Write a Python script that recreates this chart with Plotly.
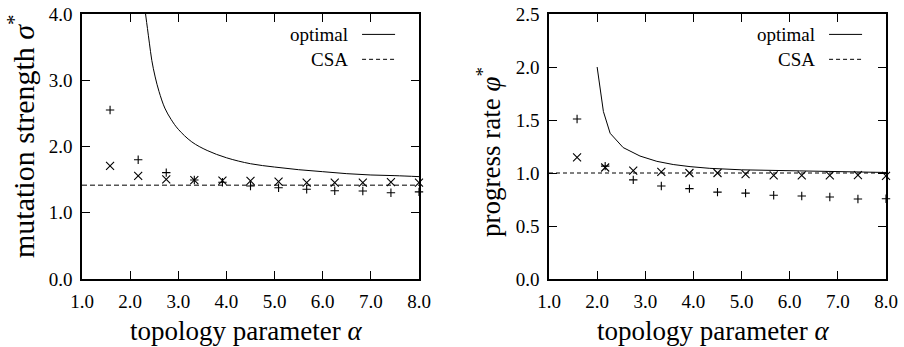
import plotly.graph_objects as go

# ---------------- data ----------------
alpha_pts = [1.583, 2.167, 2.75, 3.333, 3.917, 4.5, 5.083, 5.667, 6.25, 6.833, 7.417, 8.0]

sigma_plus = [2.55, 1.80, 1.605, 1.495, 1.46, 1.404, 1.378, 1.354, 1.333, 1.328, 1.303, 1.315]
sigma_x = [1.706, 1.555, 1.505, 1.494, 1.484, 1.48, 1.47, 1.454, 1.454, 1.454, 1.462, 1.454]

phi_plus = [1.51, 1.065, 0.935, 0.877, 0.853, 0.82, 0.81, 0.79, 0.783, 0.774, 0.755, 0.757]
phi_x = [1.148, 1.052, 1.022, 1.01, 1.0, 1.0, 0.99, 0.978, 0.978, 0.978, 0.98, 0.972]

opt_sigma_alpha = [2.32, 2.36, 2.40, 2.45, 2.52, 2.60, 2.72, 2.85, 3.0, 3.28, 3.6, 4.0,
                   4.5, 5.0, 5.5, 6.0, 6.5, 7.0, 7.5, 8.0]
opt_sigma = [4.00, 3.78, 3.56, 3.30, 3.05, 2.83, 2.58, 2.41, 2.26, 2.07, 1.94, 1.83,
             1.74, 1.69, 1.65, 1.62, 1.59, 1.57, 1.56, 1.545]

opt_phi_alpha = [2.0, 2.13, 2.27, 2.41, 2.54, 2.89, 3.24, 3.58, 3.93, 4.34, 5.0, 6.2, 7.0, 8.0]
opt_phi = [2.0, 1.58, 1.375, 1.30, 1.24, 1.16, 1.11, 1.08, 1.06, 1.044, 1.03, 1.02, 1.012, 1.005]

csa_sigma = 1.414
csa_phi = 1.0

x_ticks = [1, 2, 3, 4, 5, 6, 7, 8]
y1_ticks = [0, 1, 2, 3, 4]
y2_ticks = [0, 0.5, 1.0, 1.5, 2.0, 2.5]

FONT = "Liberation Serif, Times New Roman, DejaVu Serif, serif"

W, H = 904, 347


def px(p):
    return p / W


def py(p):
    return 1 - p / H


fig = go.Figure()

# left panel
fig.add_trace(go.Scatter(x=opt_sigma_alpha, y=opt_sigma, mode="lines", line=dict(color="black", width=1, shape="spline"),
                         xaxis="x", yaxis="y", showlegend=False))
fig.add_trace(go.Scatter(x=[1, 8], y=[csa_sigma, csa_sigma], mode="lines",
                         line=dict(color="#555555", width=1.6, dash="5px,3px"), xaxis="x", yaxis="y", showlegend=False))
fig.add_trace(go.Scatter(x=alpha_pts, y=sigma_plus, mode="markers",
                         marker=dict(symbol="cross-thin", size=6, line=dict(color="black", width=1.1)),
                         xaxis="x", yaxis="y", showlegend=False, cliponaxis=False))
fig.add_trace(go.Scatter(x=alpha_pts, y=sigma_x, mode="markers",
                         marker=dict(symbol="x-thin", size=8, line=dict(color="black", width=1.1)),
                         xaxis="x", yaxis="y", showlegend=False, cliponaxis=False))

# right panel
fig.add_trace(go.Scatter(x=opt_phi_alpha, y=opt_phi, mode="lines", line=dict(color="black", width=1),
                         xaxis="x2", yaxis="y2", showlegend=False))
fig.add_trace(go.Scatter(x=[1, 8], y=[csa_phi, csa_phi], mode="lines",
                         line=dict(color="black", width=1, dash="4px,3px"), xaxis="x2", yaxis="y2", showlegend=False))
fig.add_trace(go.Scatter(x=alpha_pts, y=phi_plus, mode="markers",
                         marker=dict(symbol="cross-thin", size=6, line=dict(color="black", width=1.1)),
                         xaxis="x2", yaxis="y2", showlegend=False, cliponaxis=False))
fig.add_trace(go.Scatter(x=alpha_pts, y=phi_x, mode="markers",
                         marker=dict(symbol="x-thin", size=8, line=dict(color="black", width=1.1)),
                         xaxis="x2", yaxis="y2", showlegend=False, cliponaxis=False))

ydom = [py(279), py(14)]
x1dom = [px(82), px(419)]
x2dom = [px(549), px(886)]

axis_common = dict(showline=True, linecolor="black", linewidth=1.5, mirror="ticks",
                   ticks="inside", ticklen=8, tickwidth=1, tickcolor="black", automargin=False,
                   ticklabeloverflow="allow",
                   showgrid=False, zeroline=False, tickfont=dict(family=FONT, size=19, color="black"),
                   tickformat=".1f")

fig.update_layout(
    template="none",
    width=W, height=H, margin=dict(l=0, r=0, t=0, b=0),
    paper_bgcolor="white", plot_bgcolor="white",
    font=dict(family=FONT, color="black"),
    xaxis=dict(domain=x1dom, range=[1, 8], tickvals=x_ticks, anchor="y", ticklabelstandoff=4, **axis_common),
    yaxis=dict(domain=ydom, range=[0, 4], tickvals=y1_ticks, anchor="x", ticklabelstandoff=4, **axis_common),
    xaxis2=dict(domain=x2dom, range=[1, 8], tickvals=x_ticks, anchor="y2", ticklabelstandoff=4, **axis_common),
    yaxis2=dict(domain=ydom, range=[0, 2.5], tickvals=y2_ticks, anchor="x2", ticklabelstandoff=4, **axis_common),
)

title_font = dict(family=FONT, size=27, color="black")
ytitle_font = dict(family=FONT, size=30, color="black")
leg_font = dict(family=FONT, size=19, color="black")
ann = []
for cx, xr, yr in [(246, "x", "y"), (713, "x2", "y2")]:
    ann.append(dict(text="topology parameter <i>α</i>", x=px(cx), y=py(331),
                    xref="paper", yref="paper", xanchor="center", yanchor="middle",
                    showarrow=False, font=title_font))
    ann.append(dict(text="optimal", x=0.795, y=0.921, xref=xr + " domain", yref=yr + " domain",
                    xanchor="right", yanchor="middle", showarrow=False, font=leg_font))
    ann.append(dict(text="CSA", x=0.795, y=0.827, xref=xr + " domain", yref=yr + " domain",
                    xanchor="right", yanchor="middle", showarrow=False, font=leg_font))
ann.append(dict(text="mutation strength <i>σ</i><sup>*</sup>", x=px(21), y=py(136),
                xref="paper", yref="paper", xanchor="center", yanchor="middle", textangle=-90,
                showarrow=False, font=ytitle_font))
ann.append(dict(text="progress rate <i>φ</i><sup>*</sup>", x=px(489), y=py(152),
                xref="paper", yref="paper", xanchor="center", yanchor="middle", textangle=-90,
                showarrow=False, font=title_font))
fig.update_layout(annotations=ann)

shapes = []
for xr, yr in [("x", "y"), ("x2", "y2")]:
    shapes.append(dict(type="line", xref=xr + " domain", yref=yr + " domain", x0=0.831, x1=0.929,
                       y0=0.923, y1=0.923, line=dict(color="black", width=1)))
    shapes.append(dict(type="line", xref=xr + " domain", yref=yr + " domain", x0=0.831, x1=0.929,
                       y0=0.829, y1=0.829, line=dict(color="black", width=1, dash="4px,3px")))
fig.update_layout(shapes=shapes)

fig.write_html("out.html", config={"displayModeBar": False},
               post_script="document.body.style.margin='0';document.body.style.overflow='hidden';")
